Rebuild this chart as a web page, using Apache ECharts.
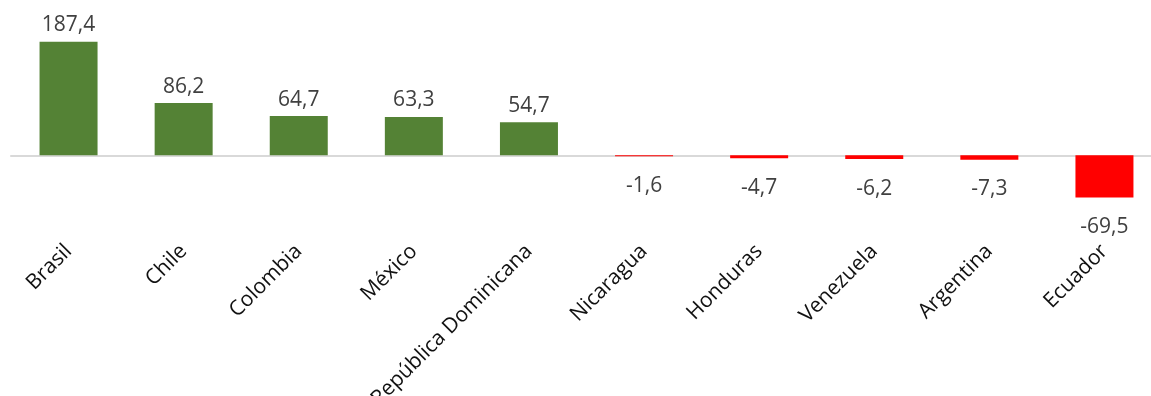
<!DOCTYPE html>
<html>
<head>
<meta charset="utf-8">
<script src="https://cdn.jsdelivr.net/npm/echarts@6/dist/echarts.min.js"></script>
<style>
  html, body { margin: 0; padding: 0; background: #fff; }
  #chart { width: 1151px; height: 396px; }
</style>
</head>
<body>
<div id="chart"></div>
<script>
const countries = ['Brasil', 'Chile', 'Colombia', 'México', 'República Dominicana', 'Nicaragua', 'Honduras', 'Venezuela', 'Argentina', 'Ecuador']
const values = [187.4, 86.2, 64.7, 63.3, 54.7, -1.6, -4.7, -6.2, -7.3, -69.5]

const chart = echarts.init(document.getElementById('chart'))

const barData = values.map(v => ({
  value: v,
  itemStyle: { color: v >= 0 ? '#548235' : '#ff0000' },
  label: v >= 0
    ? { position: 'top', distance: 6 }
    : { position: 'bottom', distance: 19 }
}))

const option = {
  animation: false,
  grid: { left: 11, width: 1151, top: 34, height: 182, containLabel: false, outerBoundsMode: 'none' },
  xAxis: [
    {
      type: 'category',
      data: countries,
      axisLine: { onZero: true, lineStyle: { color: '#d9d9d9', width: 2 } },
      axisTick: { show: false },
      axisLabel: { show: false }
    },
    {
      type: 'category',
      data: countries,
      position: 'bottom',
      axisLine: { show: false },
      axisTick: { show: false },
      axisLabel: {
        rotate: 45,
        margin: 32,
        interval: 0,
        fontFamily: 'Open Sans',
        fontSize: 21,
        color: '#111'
      }
    }
  ],
  yAxis: {
    type: 'value',
    min: -100,
    max: 200,
    show: false,
    splitLine: { show: false }
  },
  series: [
    {
      type: 'bar',
      xAxisIndex: 0,
      data: barData,
      barWidth: 58,
      label: {
        show: true,
        fontFamily: 'Open Sans',
        fontSize: 21,
        color: '#404040',
        formatter: p => p.value.toFixed(1).replace('.', ',')
      }
    }
  ]
}

chart.setOption(option)
</script>
</body>
</html>
